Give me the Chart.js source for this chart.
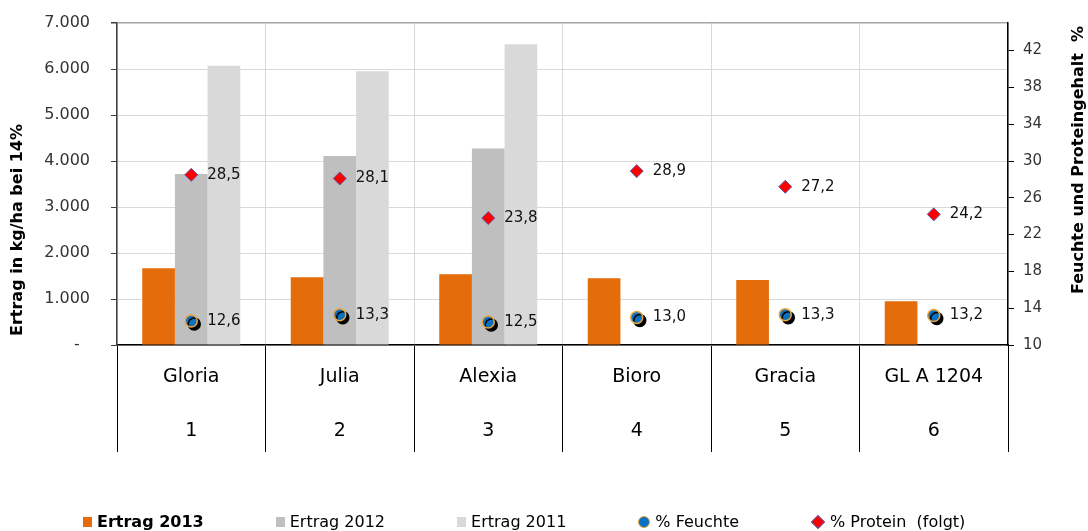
<!DOCTYPE html>
<html>
<head>
<meta charset="utf-8">
<script src="https://cdn.jsdelivr.net/npm/chart.js@4.4.1/dist/chart.umd.min.js"></script>
<style>
  body { margin: 0; background: #fff; }
  #wrap { position: relative; width: 1088px; height: 531px; }
  #legend {
    position: absolute; left: 83px; top: 512px;
    display: flex; gap: 72px; align-items: center;
    font-family: 'DejaVu Sans', Verdana, sans-serif; font-size: 16px; color: #000;
  }
  .item { display: flex; align-items: center; gap: 5px; white-space: pre; }
  .item.bold { font-weight: bold; }
  .box { width: 9px; height: 10px; }
  .dot { width: 10px; height: 10px; border-radius: 50%; border: 1.5px solid #e8a33c; background: #0a70c0; }
  .dia { width: 8px; height: 8px; transform: rotate(45deg); background: #ff0000; border: 1px solid #5a5aa8; margin: 0 2px; }
</style>
</head>
<body>
<div id="wrap">
  <canvas id="chart" width="1088" height="531"></canvas>
  <div id="legend"></div>
</div>
<script>
// Sorten und Versuchsnummern
const categories = ['Gloria', 'Julia', 'Alexia', 'Bioro', 'Gracia', 'GL A 1204'];
const categoryNumbers = ['1', '2', '3', '4', '5', '6'];

// Ertrag in kg/ha (bei 14% Feuchte)
const ertrag2013 = [1670, 1475, 1540, 1450, 1415, 950];
const ertrag2012 = [3720, 4110, 4270, null, null, null];
const ertrag2011 = [6070, 5950, 6540, null, null, null];

// Feuchte und Protein in %
const feuchte = [12.6, 13.3, 12.5, 13.0, 13.3, 13.2];
const protein = [28.5, 28.1, 23.8, 28.9, 27.2, 24.2];

// Achsenbeschriftung
const leftTicks = [0, 1000, 2000, 3000, 4000, 5000, 6000, 7000];
const rightTicks = [10, 14, 18, 22, 26, 30, 34, 38, 42];

const FONT = "'DejaVu Sans', Verdana, sans-serif";

// Tausenderpunkt wie im Original, 0 als Strich
function formatThousands(v) {
  if (v === 0) return '-  ';
  return String(v).replace(/\B(?=(\d{3})+(?!\d))/g, '.');
}

// Schatten unter den Feuchte-Punkten
const shadowPlugin = {
  id: 'pointShadow',
  beforeDatasetDraw(chart, args) {
    const ds = chart.data.datasets[args.index];
    if (!ds.shadow) return;
    const ctx = chart.ctx;
    ctx.save();
    ctx.shadowColor = '#000';
    ctx.shadowOffsetX = 3;
    ctx.shadowOffsetY = 3;
    ctx.shadowBlur = 0;
  },
  afterDatasetDraw(chart, args) {
    const ds = chart.data.datasets[args.index];
    if (ds.shadow) chart.ctx.restore();
  }
};

// Werte rechts neben den Punkten
const valueLabels = {
  id: 'valueLabels',
  afterDatasetsDraw(chart) {
    const ctx = chart.ctx;
    ctx.save();
    ctx.font = '15px ' + FONT;
    ctx.fillStyle = '#111';
    ctx.textAlign = 'left';
    ctx.textBaseline = 'middle';
    chart.data.datasets.forEach((ds, i) => {
      if (ds.type !== 'line') return;
      chart.getDatasetMeta(i).data.forEach((pt, j) => {
        const v = ds.data[j];
        ctx.fillText(v.toFixed(1).replace('.', ','), pt.x + 16, pt.y);
      });
    });
    ctx.restore();
  }
};

// Achsentitel (beide von unten nach oben gelesen)
const axisTitles = {
  id: 'axisTitles',
  afterDraw(chart) {
    const ctx = chart.ctx;
    ctx.save();
    ctx.font = 'bold 16px ' + FONT;
    ctx.fillStyle = '#000';
    ctx.textAlign = 'center';
    ctx.textBaseline = 'middle';
    ctx.translate(18, 230);
    ctx.rotate(-Math.PI / 2);
    ctx.fillText('Ertrag in kg/ha bei 14%', 0, 0);
    ctx.restore();

    ctx.save();
    ctx.font = 'bold 16px ' + FONT;
    ctx.fillStyle = '#000';
    ctx.textAlign = 'center';
    ctx.textBaseline = 'middle';
    ctx.translate(1079, 160);
    ctx.rotate(-Math.PI / 2);
    ctx.fillText('Feuchte und Proteingehalt  %', 0, 0);
    ctx.restore();
  }
};

const labels = categories.map((c, i) => [c, categoryNumbers[i]]);

// feste Achsenbreite, kein Zusatzabstand oben/unten durch die Beschriftung
function fixWidth(w) {
  return scale => {
    scale.width = w;
    scale.paddingTop = 0;
    scale.paddingBottom = 0;
  };
}

const chart = new Chart(document.getElementById('chart'), {
  type: 'bar',
  data: {
    labels: labels,
    datasets: [
      { label: 'Ertrag 2013', data: ertrag2013, backgroundColor: '#e46c0a', yAxisID: 'y', order: 2, bold: true },
      { label: 'Ertrag 2012', data: ertrag2012, backgroundColor: '#bfbfbf', yAxisID: 'y', order: 2 },
      { label: 'Ertrag 2011', data: ertrag2011, backgroundColor: '#d9d9d9', yAxisID: 'y', order: 2 },
      {
        type: 'line', label: '% Feuchte', data: feuchte, yAxisID: 'y1', order: 1,
        showLine: false, pointStyle: 'circle', pointRadius: 6, pointHoverRadius: 6,
        pointBackgroundColor: '#0a70c0', pointBorderColor: '#e8a33c', pointBorderWidth: 1.5,
        shadow: true
      },
      {
        type: 'line', label: '% Protein  (folgt)', data: protein, yAxisID: 'y1', order: 0,
        showLine: false, pointStyle: 'rectRot', pointRadius: 6.5, pointHoverRadius: 6.5,
        pointBackgroundColor: '#ff0000', pointBorderColor: '#5a5aa8', pointBorderWidth: 1
      }
    ]
  },
  options: {
    responsive: false,
    animation: false,
    layout: { padding: { top: 23, left: 0, right: 0, bottom: 0 } },
    datasets: { bar: { categoryPercentage: 0.66, barPercentage: 1.0, borderWidth: 0 } },
    plugins: {
      legend: { display: false },
      tooltip: { enabled: false }
    },
    scales: {
      x: {
        grid: {
          offset: true,
          color: '#d9d9d9',
          tickColor: '#000',
          tickLength: 107,
          drawOnChartArea: true
        },
        border: { color: '#000', width: 1.5 },
        ticks: {
          padding: -102,
          color: '#000',
          maxRotation: 0,
          font: { family: FONT, size: 19, lineHeight: '54px' }
        },
        afterFit(scale) { scale.height = 186; }
      },
      y: {
        position: 'left',
        min: 0, max: 7000,
        afterBuildTicks(scale) { scale.ticks = leftTicks.map(v => ({ value: v })); },
        grid: {
          color: ctx => (ctx.tick && ctx.tick.value === 7000 ? '#a6a6a6' : '#d9d9d9'),
          lineWidth: ctx => (ctx.tick && ctx.tick.value === 7000 ? 1.5 : 1),
          tickColor: '#404040',
          tickLength: 6
        },
        border: { color: '#404040', width: 1.5 },
        ticks: {
          padding: 21,
          color: '#333',
          font: { family: FONT, size: 16 },
          callback: v => formatThousands(v)
        },
        afterFit: fixWidth(117)
      },
      y1: {
        position: 'right',
        min: 10, max: 45,
        afterBuildTicks(scale) { scale.ticks = rightTicks.map(v => ({ value: v })); },
        grid: { drawOnChartArea: false, tickColor: '#000', tickLength: 6 },
        border: { color: '#000', width: 1.5 },
        ticks: {
          padding: 9,
          color: '#333',
          font: { family: FONT, size: 15 }
        },
        afterFit: fixWidth(80)
      }
    }
  },
  plugins: [shadowPlugin, valueLabels, axisTitles]
});

// HTML-Legende aus den Datensätzen
function buildLegend(chart) {
  const el = document.getElementById('legend');
  el.innerHTML = '';
  chart.data.datasets.forEach(ds => {
    const item = document.createElement('div');
    item.className = 'item' + (ds.bold ? ' bold' : '');
    const mark = document.createElement('span');
    if (ds.type === 'line') {
      mark.className = ds.pointStyle === 'circle' ? 'dot' : 'dia';
    } else {
      mark.className = 'box';
      mark.style.background = ds.backgroundColor;
    }
    const txt = document.createElement('span');
    txt.textContent = ds.label;
    item.appendChild(mark);
    item.appendChild(txt);
    el.appendChild(item);
  });
}
buildLegend(chart);
</script>
</body>
</html>
